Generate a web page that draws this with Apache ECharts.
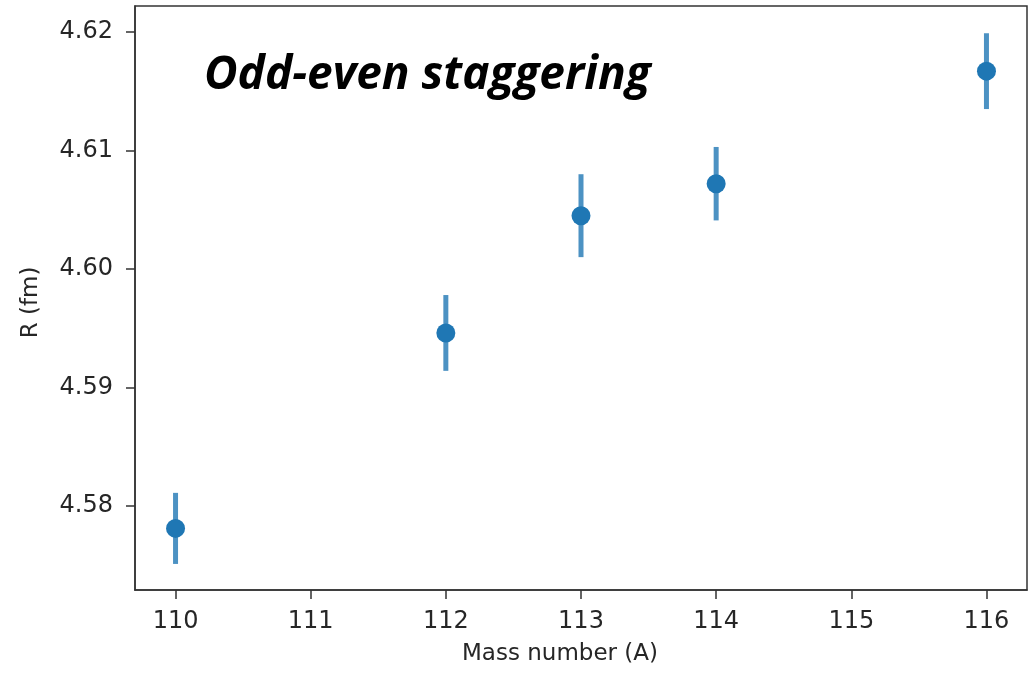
<!DOCTYPE html>
<html>
<head>
<meta charset="utf-8">
<script src="https://cdn.jsdelivr.net/npm/echarts@6/dist/echarts.min.js"></script>
<style>
  html, body { margin: 0; padding: 0; background: #fff; }
  #main { width: 1031px; height: 676px; }
</style>
</head>
<body>
<div id="main"></div>
<script>
var massNumbers = [110, 112, 113, 114, 116];
var radii = [4.5781, 4.5946, 4.6045, 4.6072, 4.6167];
var radiusErrors = [0.0030, 0.0032, 0.0035, 0.0031, 0.0032];
var xTicks = [110, 111, 112, 113, 114, 115, 116];
var yTicks = [4.58, 4.59, 4.60, 4.61, 4.62];

var pointData = massNumbers.map(function (a, i) { return [a, radii[i]]; });
var errData = massNumbers.map(function (a, i) {
    return [a, radii[i] - radiusErrors[i], radii[i] + radiusErrors[i]];
});

var myChart = echarts.init(document.getElementById('main'));
var textColor = '#262626';
var lineColor = '#333';

var option = {
    animation: false,
    backgroundColor: '#fff',
    grid: {
        left: 135, right: 4, top: 6, bottom: 86,
        show: true, borderColor: lineColor, borderWidth: 1.5
    },
    graphic: [{
        type: 'text',
        left: 204, top: 53,
        style: {
            text: 'Odd-even staggering',
            font: 'italic bold 46px "Open Sans"',
            fill: '#000'
        }
    }],
    xAxis: {
        type: 'value',
        min: 109.7, max: 116.3,
        name: 'Mass number (A)',
        nameLocation: 'middle',
        nameGap: 53,
        nameTextStyle: { fontFamily: 'DejaVu Sans', fontSize: 23, color: textColor, padding: [0, 42, 0, 0] },
        splitLine: { show: false },
        axisLine: { lineStyle: { color: lineColor, width: 1.5 } },
        axisTick: { length: 9, lineStyle: { color: lineColor, width: 1.5 }, customValues: xTicks },
        axisLabel: {
            customValues: xTicks,
            margin: 20,
            fontFamily: 'DejaVu Sans', fontSize: 24, color: textColor,
            formatter: function (v) { return String(v); }
        }
    },
    yAxis: {
        type: 'value',
        min: 4.5729, max: 4.6222,
        name: 'R (fm)',
        nameLocation: 'middle',
        nameGap: 92,
        nameTextStyle: { fontFamily: 'DejaVu Sans', fontSize: 23, color: textColor, padding: [0, 9, 0, 0] },
        splitLine: { show: false },
        axisLine: { show: true, lineStyle: { color: lineColor, width: 1.5 } },
        axisTick: { show: true, length: 9, lineStyle: { color: lineColor, width: 1.5 }, customValues: yTicks },
        axisLabel: {
            customValues: yTicks,
            margin: 22,
            fontFamily: 'DejaVu Sans', fontSize: 24, color: textColor,
            formatter: function (v) { return v.toFixed(2); }
        }
    },
    series: [
        {
            type: 'custom',
            data: errData,
            renderItem: function (params, api) {
                var lo = api.coord([api.value(0), api.value(1)]);
                var hi = api.coord([api.value(0), api.value(2)]);
                return {
                    type: 'line',
                    shape: { x1: lo[0], y1: lo[1], x2: hi[0], y2: hi[1] },
                    style: { stroke: 'rgba(31,119,180,0.8)', lineWidth: 5 }
                };
            },
            z: 2
        },
        {
            type: 'scatter',
            data: pointData,
            symbol: 'circle',
            symbolSize: 19,
            itemStyle: { color: '#1f77b4', opacity: 1 },
            z: 3
        }
    ]
};
myChart.setOption(option);
</script>
</body>
</html>
